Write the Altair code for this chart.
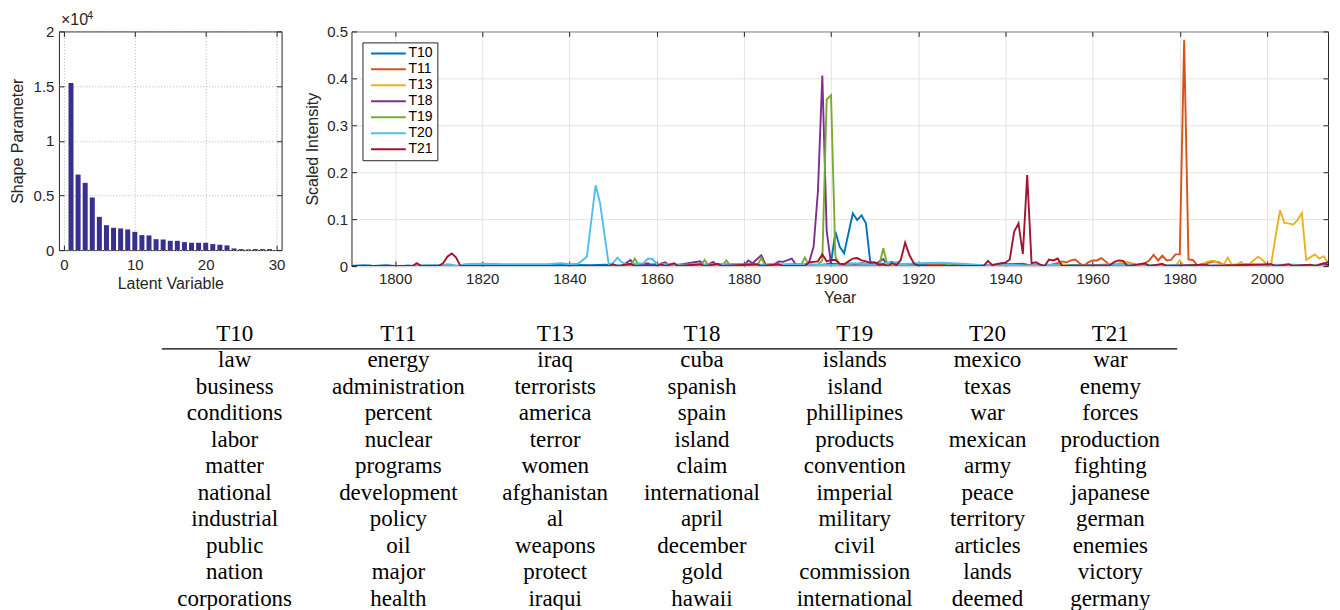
import altair as alt
import pandas as pd

SANS = "Liberation Sans"
SERIF = "Liberation Serif"
INK = "#262626"

# ---------------- data ----------------
LATENT_INDEX = list(range(1, 30))
SHAPE_PARAM_E4 = [1.528, 0.691, 0.615, 0.481, 0.304, 0.228, 0.204, 0.198, 0.189, 0.167,
                  0.137, 0.134, 0.100, 0.097, 0.085, 0.085, 0.073, 0.067, 0.067, 0.067,
                  0.055, 0.049, 0.043, 0.015, 0.009, 0.006, 0.009, 0.009, 0.009]
BAR_X_TICKS = [0, 10, 20, 30]
BAR_Y_TICKS = [0, 0.5, 1, 1.5, 2]

SERIES = ["T10", "T11", "T13", "T18", "T19", "T20", "T21"]
SERIES_COLORS = ["#0072BD", "#D95319", "#EDB120", "#7E2F8E", "#77AC30", "#4DBEEE", "#A2142F"]
YEAR_TICKS = [1800, 1820, 1840, 1860, 1880, 1900, 1920, 1940, 1960, 1980, 2000]
INTENSITY_TICKS = [0, 0.1, 0.2, 0.3, 0.4, 0.5]

T10 = [(1790, 0.0), (1793, 0.002), (1795, 0.0), (1798, 0.002), (1800, 0.0), (1805, 0.001),
       (1812, 0.002), (1815, 0.0), (1820, 0.002), (1830, 0.002), (1838, 0.003), (1845, 0.002),
       (1848, 0.003), (1852, 0.001), (1860, 0.004), (1866, 0.002), (1872, 0.003), (1880, 0.004),
       (1886, 0.002), (1892, 0.004), (1897, 0.002), (1899, 0.004), (1900, 0.006), (1901, 0.073),
       (1902, 0.041), (1903, 0.027), (1904, 0.070), (1905, 0.112), (1906, 0.098), (1907, 0.108),
       (1908, 0.091), (1909, 0.009), (1910, 0.005), (1912, 0.004), (1914, 0.009), (1915, 0.003),
       (1920, 0.004), (1928, 0.003), (1935, 0.002), (1940, 0.004), (1944, 0.005), (1946, 0.001),
       (1955, 0.002), (1965, 0.001), (1975, 0.002), (1985, 0.001), (1995, 0.002), (2005, 0.001),
       (2014, 0.003)]
T11 = [(1790, 0.0), (1920, 0.0), (1924, 0.003), (1927, 0.001), (1931, 0.003), (1934, 0.002),
       (1938, 0.0), (1950, 0.002), (1952, 0.006), (1953, 0.010), (1954, 0.008), (1955, 0.012),
       (1956, 0.014), (1957, 0.006), (1958, 0.0), (1959, 0.008), (1960, 0.012), (1961, 0.012),
       (1962, 0.017), (1963, 0.010), (1964, 0.002), (1966, 0.004), (1968, 0.008), (1970, 0.003),
       (1971, 0.001), (1972, 0.006), (1973, 0.012), (1974, 0.024), (1975, 0.012), (1976, 0.022),
       (1977, 0.012), (1978, 0.013), (1979, 0.025), (1980, 0.025), (1981, 0.482), (1982, 0.014),
       (1983, 0.013), (1984, 0.002), (1986, 0.006), (1988, 0.010), (1989, 0.008), (1990, 0.002),
       (1995, 0.004), (2000, 0.002), (2005, 0.003), (2010, 0.002), (2014, 0.004)]
T13 = [(1790, 0.0), (1897, 0.0), (1898, 0.002), (1899, 0.0), (1912, 0.004), (1913, 0.0),
       (1917, 0.004), (1918, 0.0), (1952, 0.0), (1953, 0.004), (1955, 0.0), (1965, 0.0),
       (1966, 0.006), (1967, 0.009), (1968, 0.008), (1969, 0.005), (1970, 0.0), (1979, 0.0),
       (1980, 0.012), (1981, 0.0), (1985, 0.0), (1986, 0.008), (1987, 0.011), (1988, 0.011),
       (1989, 0.005), (1990, 0.002), (1991, 0.018), (1992, 0.002), (1993, 0.002), (1994, 0.009),
       (1995, 0.002), (1996, 0.005), (1997, 0.013), (1998, 0.020), (1999, 0.013), (2000, 0.002),
       (2001, 0.006), (2002, 0.065), (2003, 0.119), (2004, 0.092), (2005, 0.091), (2006, 0.088),
       (2007, 0.098), (2008, 0.113), (2009, 0.013), (2010, 0.019), (2011, 0.025), (2012, 0.016),
       (2013, 0.021), (2014, 0.007)]
T18 = [(1790, 0.0), (1829, 0.0), (1830, 0.003), (1831, 0.0), (1852, 0.0), (1854, 0.013),
       (1855, 0.0), (1858, 0.006), (1859, 0.0), (1862, 0.008), (1863, 0.0), (1870, 0.010),
       (1871, 0.0), (1873, 0.009), (1874, 0.0), (1880, 0.0), (1881, 0.012), (1882, 0.006),
       (1884, 0.023), (1885, 0.003), (1887, 0.004), (1888, 0.010), (1889, 0.009), (1891, 0.016),
       (1892, 0.002), (1894, 0.003), (1895, 0.009), (1896, 0.041), (1897, 0.160), (1898, 0.406),
       (1899, 0.075), (1900, 0.005), (1905, 0.003), (1907, 0.006), (1910, 0.003), (1912, 0.015),
       (1913, 0.0), (2012, 0.0), (2014, 0.009)]
T19 = [(1790, 0.0), (1854, 0.0), (1855, 0.016), (1856, 0.0), (1870, 0.0), (1871, 0.013),
       (1872, 0.0), (1875, 0.0), (1876, 0.012), (1877, 0.0), (1883, 0.0), (1884, 0.017),
       (1885, 0.0), (1893, 0.0), (1894, 0.018), (1895, 0.0), (1897, 0.003), (1898, 0.012),
       (1899, 0.355), (1900, 0.364), (1901, 0.020), (1902, 0.003), (1904, 0.006), (1905, 0.0),
       (1911, 0.0), (1912, 0.038), (1913, 0.0), (1926, 0.0), (1927, 0.005), (1928, 0.0),
       (2014, 0.0)]
T20 = [(1790, 0.0), (1794, 0.002), (1795, 0.0), (1802, 0.0), (1803, 0.002), (1804, 0.0),
       (1808, 0.002), (1810, 0.0), (1812, 0.004), (1813, 0.003), (1814, 0.0), (1816, 0.004),
       (1820, 0.005), (1825, 0.004), (1830, 0.004), (1835, 0.004), (1838, 0.006), (1840, 0.004),
       (1842, 0.005), (1844, 0.020), (1846, 0.172), (1847, 0.135), (1849, 0.004), (1850, 0.006),
       (1851, 0.018), (1852, 0.008), (1853, 0.004), (1855, 0.005), (1857, 0.006), (1858, 0.016),
       (1859, 0.015), (1860, 0.005), (1865, 0.003), (1875, 0.004), (1885, 0.003), (1895, 0.004),
       (1900, 0.002), (1905, 0.006), (1910, 0.004), (1915, 0.008), (1916, 0.004), (1920, 0.006),
       (1925, 0.007), (1930, 0.005), (1935, 0.002), (1940, 0.003), (1945, 0.001), (1950, 0.003),
       (1955, 0.0), (1960, 0.002), (1966, 0.005), (1970, 0.001), (1980, 0.002), (1990, 0.001),
       (2000, 0.002), (2014, 0.002)]
T21 = [(1790, 0.0), (1804, 0.0), (1805, 0.006), (1806, 0.0), (1810, 0.0), (1811, 0.006),
       (1812, 0.020), (1813, 0.027), (1814, 0.018), (1815, 0.0), (1849, 0.0), (1850, 0.004),
       (1851, 0.0), (1854, 0.005), (1855, 0.0), (1860, 0.0), (1861, 0.004), (1862, 0.0),
       (1864, 0.006), (1865, 0.0), (1870, 0.004), (1871, 0.0), (1874, 0.005), (1875, 0.0),
       (1883, 0.004), (1884, 0.0), (1888, 0.004), (1889, 0.0), (1894, 0.0), (1895, 0.008),
       (1896, 0.009), (1897, 0.010), (1898, 0.025), (1899, 0.010), (1900, 0.013), (1901, 0.013),
       (1902, 0.005), (1903, 0.004), (1904, 0.010), (1905, 0.016), (1906, 0.017), (1907, 0.012),
       (1908, 0.010), (1909, 0.007), (1910, 0.008), (1911, 0.003), (1912, 0.004), (1913, 0.0),
       (1914, 0.006), (1915, 0.002), (1916, 0.013), (1917, 0.050), (1918, 0.023), (1919, 0.006),
       (1920, 0.0), (1935, 0.0), (1936, 0.011), (1937, 0.002), (1938, 0.004), (1939, 0.006),
       (1940, 0.007), (1941, 0.014), (1942, 0.073), (1943, 0.091), (1944, 0.026), (1945, 0.194),
       (1946, 0.006), (1947, 0.008), (1948, 0.003), (1949, 0.0), (1950, 0.014), (1951, 0.012),
       (1952, 0.016), (1953, 0.0), (1964, 0.002), (1965, 0.009), (1966, 0.012), (1967, 0.011),
       (1968, 0.0), (1972, 0.006), (1973, 0.0), (1976, 0.005), (1977, 0.0), (1986, 0.003),
       (1987, 0.0), (2001, 0.004), (2002, 0.0), (2005, 0.004), (2006, 0.0), (2010, 0.003),
       (2011, 0.0), (2013, 0.006), (2014, 0.002)]
SERIES_POINTS = [T10, T11, T13, T18, T19, T20, T21]

TOPIC_WORDS = {
    "T10": ["law", "business", "conditions", "labor", "matter", "national", "industrial",
            "public", "nation", "corporations"],
    "T11": ["energy", "administration", "percent", "nuclear", "programs", "development",
            "policy", "oil", "major", "health"],
    "T13": ["iraq", "terrorists", "america", "terror", "women", "afghanistan", "al",
            "weapons", "protect", "iraqui"],
    "T18": ["cuba", "spanish", "spain", "island", "claim", "international", "april",
            "december", "gold", "hawaii"],
    "T19": ["islands", "island", "phillipines", "products", "convention", "imperial",
            "military", "civil", "commission", "international"],
    "T20": ["mexico", "texas", "war", "mexican", "army", "peace", "territory", "articles",
            "lands", "deemed"],
    "T21": ["war", "enemy", "forces", "production", "fighting", "japanese", "german",
            "enemies", "victory", "germany"],
}

# ---------------- layout (pixels, not data) ----------------
TABLE_W = 1200
COLUMN_CENTER = {"T10": 176, "T11": 340, "T13": 497, "T18": 644, "T19": 797, "T20": 930, "T21": 1053}

AX = dict(labelFont=SANS, labelFontSize=15, labelColor=INK, titleFont=SANS, titleFontSize=16,
          titleFontWeight="normal", titleColor=INK, domain=False, tickColor=INK, tickWidth=1,
          tickSize=5, offset=-5, labelFlush=False)
TICKS_ONLY = dict(labels=False, title=None, grid=False, domain=False, tickColor=INK,
                  tickWidth=1, tickSize=5, offset=-5)

# ---------------- bar chart ----------------
bar_df = pd.DataFrame({"k": LATENT_INDEX, "v": SHAPE_PARAM_E4})
bxs = alt.Scale(domain=[0, 30], nice=False, zero=False)
bys = alt.Scale(domain=[0, 2], nice=False)

bars = alt.Chart(bar_df).mark_bar(size=5, color="#38308c", orient="vertical").encode(
    x=alt.X("k:Q", scale=bxs, axis=alt.Axis(orient="bottom", values=BAR_X_TICKS, title="Latent Variable",
                                           grid=True, gridDash=[1, 2], gridColor="#b5b5b5",
                                           labelPadding=7, titlePadding=3, **AX)),
    y=alt.Y("v:Q", scale=bys, axis=alt.Axis(orient="left", values=BAR_Y_TICKS, format="~g",
                                           title="Shape Parameter", grid=True, gridDash=[1, 2],
                                           gridColor="#b5b5b5", labelPadding=5, titlePadding=8, **AX)),
)
bar_ticks = alt.Chart(bar_df).mark_point(opacity=0).encode(
    x=alt.X("k:Q", scale=bxs, axis=alt.Axis(orient="top", values=BAR_X_TICKS, **TICKS_ONLY)),
    y=alt.Y("v:Q", scale=bys, axis=alt.Axis(orient="right", values=BAR_Y_TICKS, **TICKS_ONLY)),
)
expo = alt.Chart(pd.DataFrame({"t": ["×10"]})).mark_text(
    align="left", baseline="alphabetic", font=SANS, fontSize=16, color=INK
).encode(x=alt.value(2), y=alt.value(-6), text="t:N")
expo4 = alt.Chart(pd.DataFrame({"t": ["4"]})).mark_text(
    align="left", baseline="alphabetic", font=SANS, fontSize=11, color=INK
).encode(x=alt.value(28), y=alt.value(-12), text="t:N")

bar_chart = alt.layer(bars, bar_ticks, expo, expo4).resolve_axis(
    x="independent", y="independent"
).properties(width=223, height=219, view=alt.ViewBackground(stroke=INK, strokeWidth=1))

# ---------------- line chart ----------------
rows = []
for name, pts in zip(SERIES, SERIES_POINTS):
    for yr, val in pts:
        rows.append({"series": name, "year": yr, "value": val})
line_df = pd.DataFrame(rows)

lxs = alt.Scale(domain=[1790, 2014], nice=False, zero=False)
lys = alt.Scale(domain=[0, 0.5], nice=False)

lines = alt.Chart(line_df).mark_line(strokeWidth=1.9, clip=True).encode(
    x=alt.X("year:Q", scale=lxs, axis=alt.Axis(orient="bottom", values=YEAR_TICKS, format="d", title="Year",
                                              grid=True, gridColor="#e2e2e2", labelPadding=5,
                                              titlePadding=3, **AX)),
    y=alt.Y("value:Q", scale=lys, axis=alt.Axis(orient="left", values=INTENSITY_TICKS, format="~g",
                                               title="Scaled Intensity", grid=True, gridColor="#e2e2e2",
                                               labelPadding=4, titlePadding=6, **AX)),
    color=alt.Color("series:N", sort=SERIES,
                    scale=alt.Scale(domain=SERIES, range=SERIES_COLORS),
                    legend=alt.Legend(title=None, orient="top-left", offset=11, padding=4,
                                      strokeColor=INK, fillColor="white",
                                      labelFont=SANS, labelFontSize=14, labelColor="black",
                                      symbolType="M-2.9,0H2.9", symbolSize=144,
                                      symbolStrokeWidth=2, symbolOffset=15, labelOffset=13,
                                      rowPadding=2)),
    detail="series:N",
)
line_ticks = alt.Chart(line_df).mark_point(opacity=0).encode(
    x=alt.X("year:Q", scale=lxs, axis=alt.Axis(orient="top", values=YEAR_TICKS, **TICKS_ONLY)),
    y=alt.Y("value:Q", scale=lys, axis=alt.Axis(orient="right", values=INTENSITY_TICKS, **TICKS_ONLY)),
)
line_chart = alt.layer(lines, line_ticks).resolve_axis(
    x="independent", y="independent"
).properties(width=978, height=235, view=alt.ViewBackground(stroke=INK, strokeWidth=1))

# ---------------- table ----------------
trows = []
for c in SERIES:
    trows.append({"col": c, "row": -1, "text": c})
    for i, w in enumerate(TOPIC_WORDS[c]):
        trows.append({"col": c, "row": i, "text": w})
tab_df = pd.DataFrame(trows)
tab_df["cx"] = tab_df["col"].map(COLUMN_CENTER)

txs = alt.Scale(domain=[0, TABLE_W], range=[0, TABLE_W], nice=False, zero=False)
tys = alt.Scale(domain=[-1, 9], reverse=True, nice=False, zero=False)

table_text = alt.Chart(tab_df).mark_text(font=SERIF, fontSize=23, color="black",
                                         align="center", baseline="middle").encode(
    x=alt.X("cx:Q", scale=txs, axis=None),
    y=alt.Y("row:Q", scale=tys, axis=None),
    text="text:N",
)
table_rule = alt.Chart(pd.DataFrame({"r": [0]})).mark_rule(color="black", strokeWidth=1.3).encode(
    x=alt.value(103), x2=alt.value(1120), y=alt.value(15)
)
table = alt.layer(table_text, table_rule).properties(
    width=TABLE_W, height=265, view=alt.ViewBackground(stroke="transparent")
)

top = alt.hconcat(bar_chart, line_chart, spacing=18).resolve_scale(
    color="independent"
).resolve_legend(color="independent")
chart = alt.vconcat(top, table, spacing=16).properties(
    padding={"left": 0, "top": 1, "right": 0, "bottom": 0}
).configure(font=SANS)

chart.save("out.html", embed_options={"renderer": "svg", "actions": False})
